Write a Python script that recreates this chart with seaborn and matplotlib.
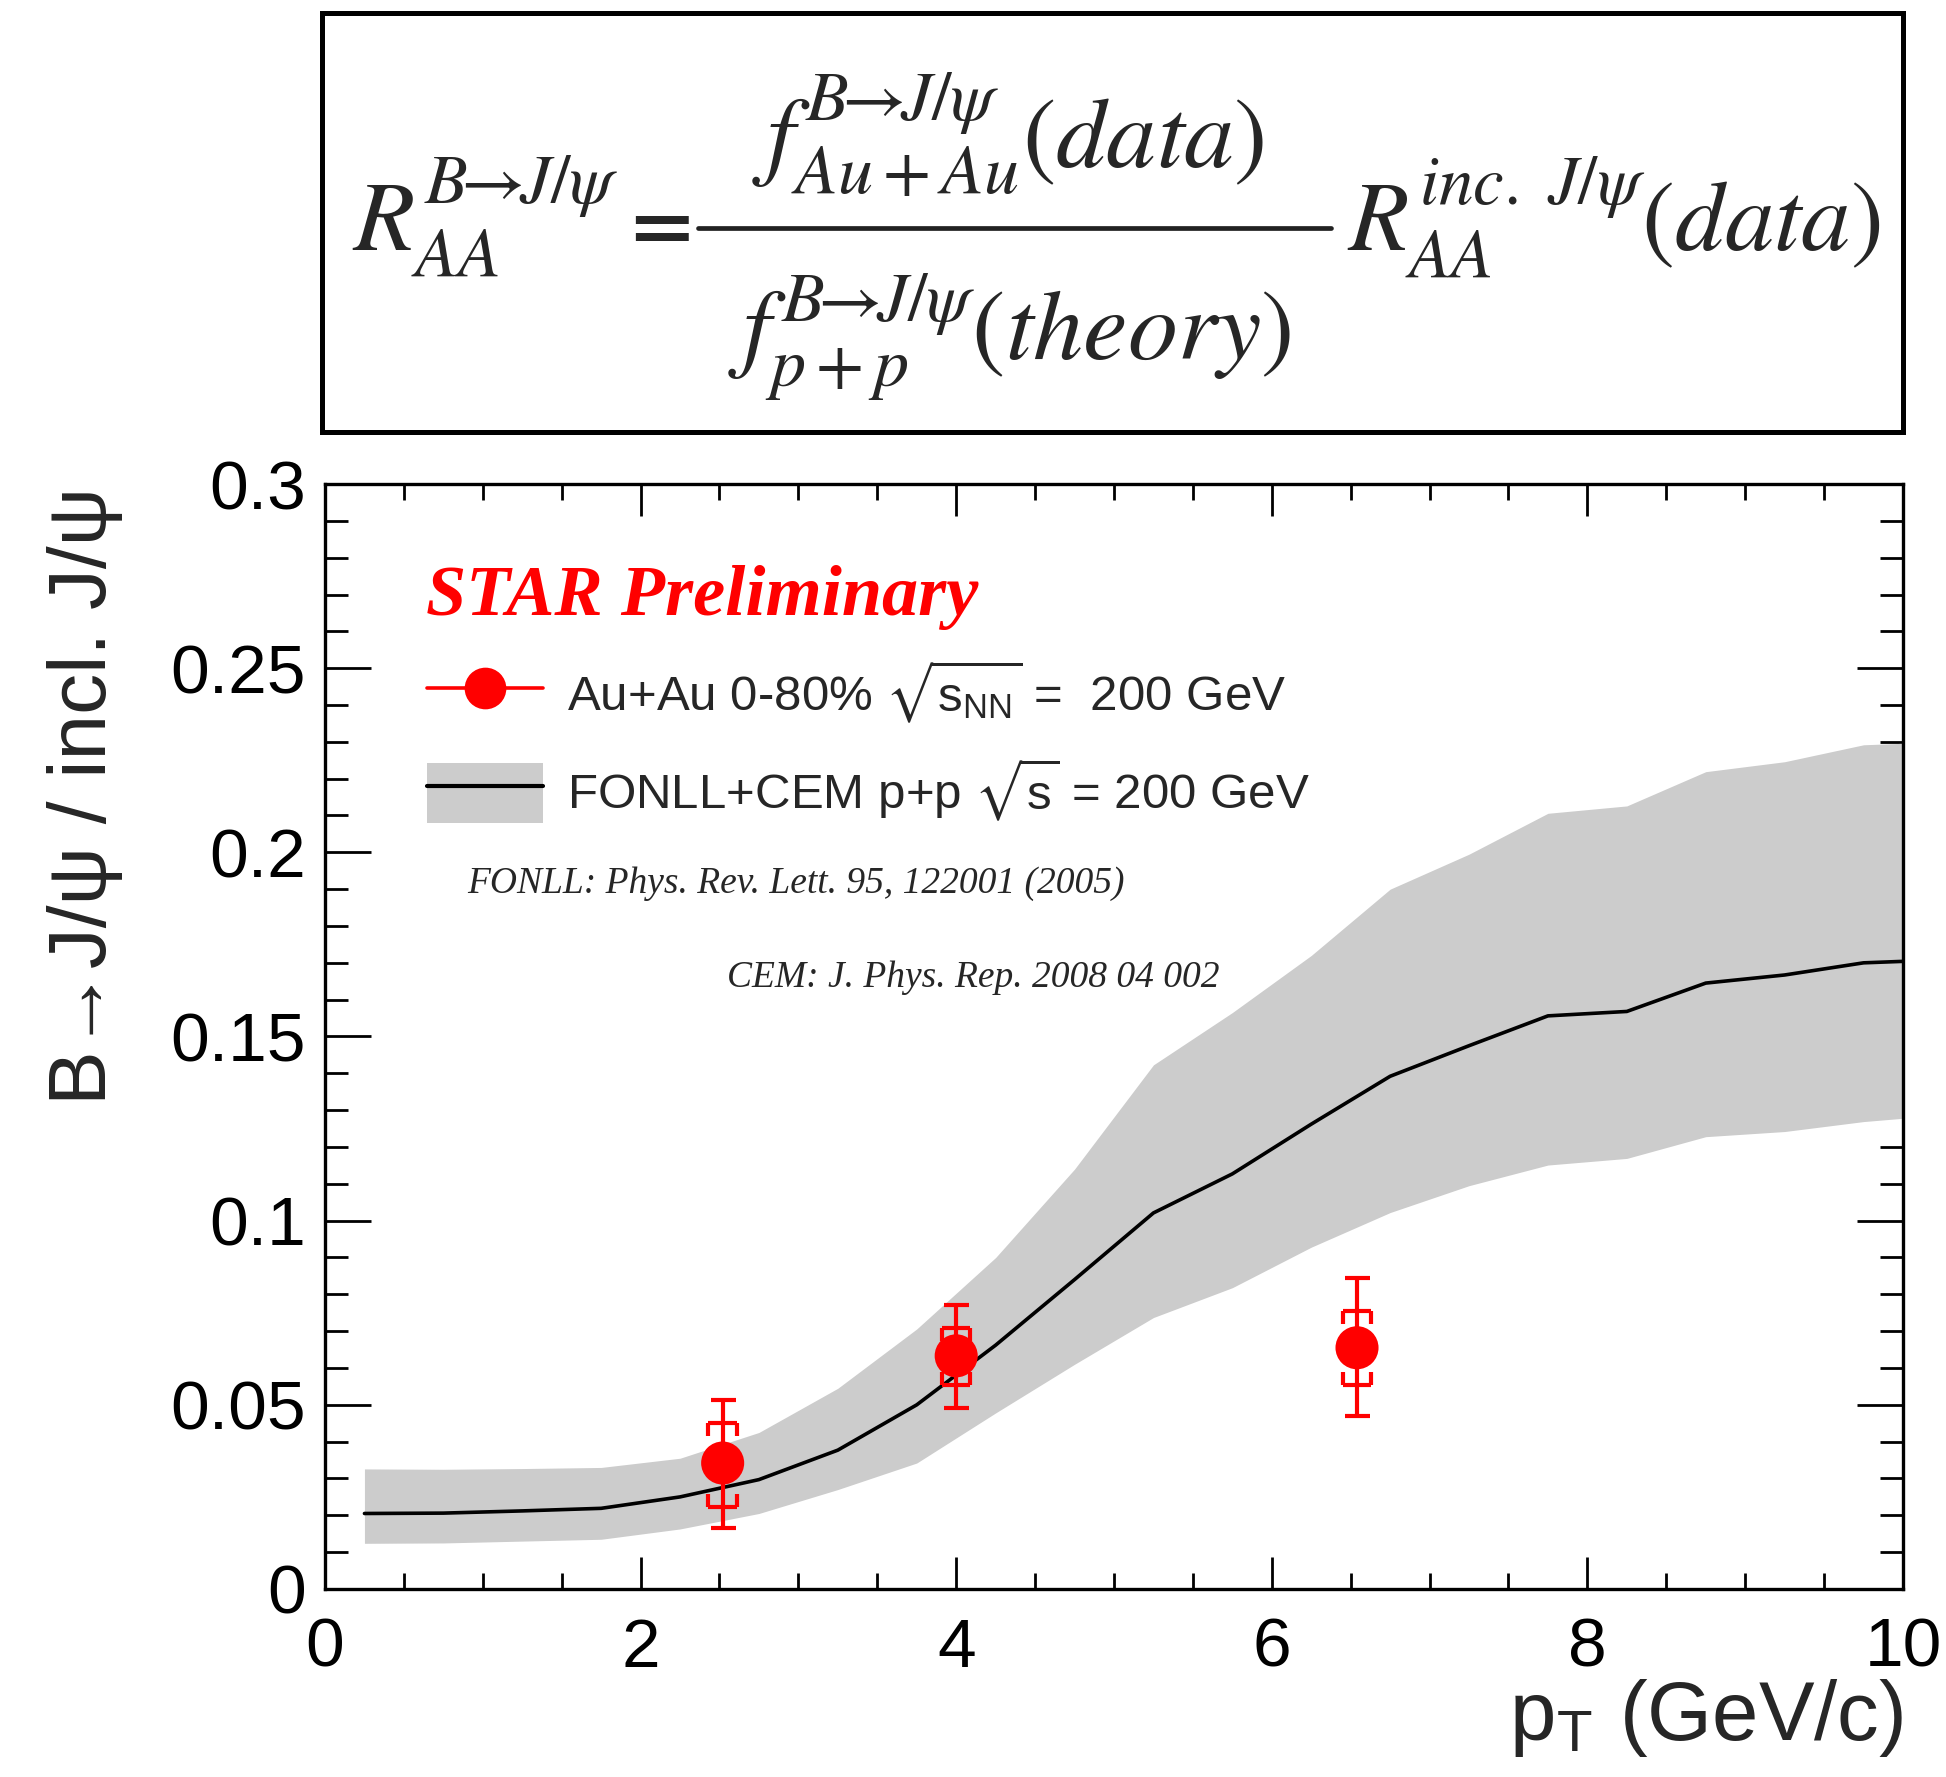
import numpy as np
import pandas as pd
import matplotlib
matplotlib.use("Agg")
import matplotlib.pyplot as plt
from matplotlib.lines import Line2D
from matplotlib.patches import Patch, Rectangle
from matplotlib.ticker import MultipleLocator, FuncFormatter
import seaborn as sns

# ---------------- data ----------------
pt_theory = [0.25, 0.75, 1.25, 1.75, 2.25, 2.75, 3.25, 3.75, 4.25, 4.75, 5.25,
             5.75, 6.25, 6.75, 7.25, 7.75, 8.25, 8.75, 9.25, 9.75, 10.0]
theory_central = [0.0205, 0.0206, 0.0212, 0.0219, 0.0250, 0.0297, 0.0377, 0.0500,
                  0.0662, 0.0840, 0.1021, 0.1127, 0.1262, 0.1392, 0.1475, 0.1556,
                  0.1568, 0.1645, 0.1667, 0.1700, 0.1704]
theory_upper = [0.0326, 0.0325, 0.0327, 0.0330, 0.0355, 0.0425, 0.0545, 0.0706,
                0.0900, 0.1140, 0.1423, 0.1565, 0.1720, 0.1900, 0.1995, 0.2106,
                0.2126, 0.2219, 0.2246, 0.2292, 0.2296]
theory_lower = [0.0124, 0.0125, 0.0130, 0.0135, 0.0163, 0.0205, 0.0270, 0.0342,
                0.0478, 0.0610, 0.0737, 0.0818, 0.0928, 0.1022, 0.1095, 0.1151,
                0.1169, 0.1228, 0.1242, 0.1269, 0.1278]

pt_data = [2.52, 4.0, 6.54]
data_val = [0.0342, 0.0633, 0.0655]
stat_lo = [0.0166, 0.0491, 0.0471]
stat_hi = [0.0513, 0.0771, 0.0845]
sys_lo = [0.0223, 0.0554, 0.0554]
sys_hi = [0.0451, 0.0708, 0.0755]

x_ticks = [0, 2, 4, 6, 8, 10]
y_ticks = [0, 0.05, 0.1, 0.15, 0.2, 0.25, 0.3]

label_data = r"Au+Au 0-80% $\mathregular{\sqrt{s_{NN}}}$ =  200 GeV"
label_theory = r"FONLL+CEM p+p $\mathregular{\sqrt{s}}$ = 200 GeV"
ref_fonll = "FONLL: Phys. Rev. Lett. 95, 122001 (2005)"
ref_cem = "CEM: J. Phys. Rep. 2008 04 002"
arrow = r"B\!\!\rightarrow\!\! J/\psi"
f_left = r"$R_{AA}^{" + arrow + r"}$"
f_num = r"$f_{Au+Au}^{" + arrow + r"}(data)$"
f_den = r"$f_{p+p}^{" + arrow + r"}(theory)$"
f_right = r"$R_{AA}^{inc.\ J/\psi}(data)$"

# ---------------- style ----------------
sns.set_theme(style="ticks")
plt.rcParams["font.family"] = ["Liberation Sans", "DejaVu Sans"]
plt.rcParams["mathtext.fontset"] = "stix"

RED = "#ff0000"
GREY = "#cccccc"
ELW = 3.0
W, H = 1946, 1777

fig = plt.figure(figsize=(19.46, 17.77), dpi=100)
ax = fig.add_axes([0.16701, 0.10580, 0.81089, 0.62183])

df_th = pd.DataFrame({"pt": pt_theory, "c": theory_central,
                      "lo": theory_lower, "hi": theory_upper})
ax.fill_between(df_th["pt"], df_th["lo"], df_th["hi"], color=GREY, lw=0, zorder=1)
sns.lineplot(data=df_th, x="pt", y="c", color="black", lw=2.6, ax=ax, zorder=2,
             legend=False)

df_d = pd.DataFrame({"pt": pt_data, "v": data_val, "slo": stat_lo, "shi": stat_hi,
                     "ylo": sys_lo, "yhi": sys_hi})
# statistical errors
ax.errorbar(df_d["pt"], df_d["v"],
            yerr=[df_d["v"] - df_d["slo"], df_d["shi"] - df_d["v"]],
            fmt="none", ecolor=RED, elinewidth=ELW, capsize=9, capthick=ELW, zorder=3)
# systematic brackets
hw = 0.09
tk = 0.0035
ax.hlines(df_d["yhi"], df_d["pt"] - hw, df_d["pt"] + hw, color=RED, lw=ELW, zorder=3)
ax.hlines(df_d["ylo"], df_d["pt"] - hw, df_d["pt"] + hw, color=RED, lw=ELW, zorder=3)
for side in (-hw, hw):
    ax.vlines(df_d["pt"] + side, df_d["yhi"] - tk, df_d["yhi"], color=RED, lw=ELW, zorder=3)
    ax.vlines(df_d["pt"] + side, df_d["ylo"], df_d["ylo"] + tk, color=RED, lw=ELW, zorder=3)
sns.scatterplot(data=df_d, x="pt", y="v", color=RED, s=31 ** 2, edgecolor="none",
                ax=ax, zorder=4, legend=False)

ax.set_xlim(0, 10)
ax.set_ylim(0, 0.3)
ax.set_xticks(x_ticks)
ax.set_yticks(y_ticks)
ax.xaxis.set_minor_locator(MultipleLocator(0.5))
ax.yaxis.set_minor_locator(MultipleLocator(0.01))
ax.yaxis.set_major_formatter(FuncFormatter(lambda v, p: f"{v:g}"))
ax.xaxis.set_major_formatter(FuncFormatter(lambda v, p: f"{v:g}"))

for sp in ax.spines.values():
    sp.set_visible(True)
    sp.set_linewidth(2.4)
    sp.set_color("black")

ax.tick_params(which="both", direction="in", top=True, right=True, color="black",
               width=2.0, labelsize=50, labelcolor="black")
ax.tick_params(axis="x", which="major", length=23, pad=20)
ax.tick_params(axis="x", which="minor", length=11.5)
ax.tick_params(axis="y", which="major", length=33, pad=14)
ax.tick_params(axis="y", which="minor", length=16.5)

ax.set_xlabel(r"p$_\mathregular{T}$ (GeV/c)", fontsize=60, loc="right")
ax.xaxis.set_label_coords(1.0, -0.080)
ax.xaxis.label.set_va("top")
ax.set_ylabel("B→J/ψ / incl. J/ψ", fontsize=59, loc="top")
ax.yaxis.set_label_coords(-0.128, 0.997)

# STAR label and references
ax.text(0.064, 0.881, "STAR Preliminary", transform=ax.transAxes, color=RED,
        fontsize=52, fontweight="bold", fontstyle="italic",
        family=["Liberation Serif"], va="baseline", ha="left")
ax.text(0.090, 0.630, ref_fonll, transform=ax.transAxes, fontsize=27,
        fontstyle="italic", family=["Liberation Serif"], va="baseline", ha="left")
ax.text(0.2548, 0.5448, ref_cem, transform=ax.transAxes, fontsize=27,
        fontstyle="italic", family=["Liberation Serif"], va="baseline", ha="left")

# legend
h_data = Line2D([], [], color=RED, lw=2.6, marker="o", ms=30, markeredgewidth=0)
h_theory = (Patch(facecolor=GREY, edgecolor="none"), Line2D([], [], color="black", lw=3))
ax.legend([h_data, h_theory], [label_data, label_theory], loc="upper left",
          bbox_to_anchor=(0.0646, 0.842), frameon=False, fontsize=35.5,
          handlelength=2.35, handleheight=1.5, handletextpad=0.5,
          labelspacing=0.62, borderpad=0, borderaxespad=0)

# formula box (positions in pixels of the figure)
def fx(px):
    return px / W

def fy(py):
    return 1 - py / H

fig.patches.append(Rectangle((fx(322), fy(432)), fx(1903) - fx(322), fy(13) - fy(432),
                             transform=fig.transFigure, fill=False,
                             edgecolor="black", lw=3.6))
FS = 72
fig.text(fx(352), fy(251), f_left, fontsize=FS, ha="left", va="baseline")
fig.text(fx(654), fy(226), r"$\mathbf{=}$", fontsize=62, ha="center", va="center")
fig.add_artist(Line2D([fx(698), fx(1331)], [fy(228), fy(228)], transform=fig.transFigure,
                      color="#222222", lw=3.4))
fig.text(fx(1008), fy(167), f_num, fontsize=FS, ha="center", va="baseline")
fig.text(fx(1010), fy(360), f_den, fontsize=FS, ha="center", va="baseline")
fig.text(fx(1347), fy(252), f_right, fontsize=71, ha="left", va="baseline")

fig.savefig("out.png", dpi=100)
